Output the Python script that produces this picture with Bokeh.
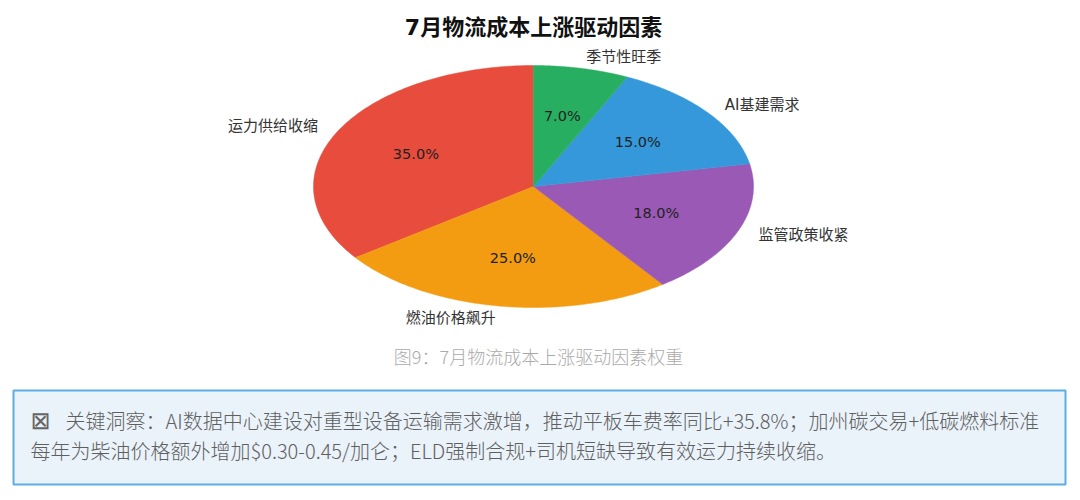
import numpy as np
from bokeh.plotting import figure
from bokeh.models import Range1d, ColumnDataSource
from bokeh.core.properties import value
from bokeh.embed import file_html
from bokeh.resources import INLINE

# ---- data ----
title = "7月物流成本上涨驱动因素"
categories = ["运力供给收缩", "燃油价格飙升", "监管政策收紧", "AI基建需求", "季节性旺季"]
shares = [35.0, 25.0, 18.0, 15.0, 7.0]
colors = ["#e74c3c", "#f39c12", "#9b59b6", "#3498db", "#27ae60"]
caption = "图9：7月物流成本上涨驱动因素权重"
insight_lines = [
    "关键洞察：AI数据中心建设对重型设备运输需求激增，推动平板车费率同比+35.8%；加州碳交易+低碳燃料标准",
    "每年为柴油价格额外增加$0.30-0.45/加仑；ELD强制合规+司机短缺导致有效运力持续收缩。",
]

W, H = 1072, 492
p = figure(width=W, height=H, x_range=Range1d(0, W), y_range=Range1d(H, 0),
           output_backend="svg", toolbar_location=None,
           x_axis_type=None, y_axis_type=None, min_border=0)
p.grid.visible = False
p.outline_line_color = None
p.background_fill_color = "white"

CJK = "DejaVu Sans, Noto Sans CJK SC"
LIGHT = "Noto Sans CJK SC Light, Noto Sans CJK SC"

# ---- pie (elliptical, start at 90deg, counter-clockwise) ----
cx, cy, rx, ry = 533, 186, 220, 121
vals = np.array(shares)
frac = vals / vals.sum()
ends = np.pi / 2 + 2 * np.pi * np.cumsum(frac)
starts = ends - 2 * np.pi * frac
xs, ys = [], []
for a0, a1 in zip(starts, ends):
    t = np.linspace(a0, a1, 120)
    xs.append(list(np.r_[cx, cx + rx * np.cos(t)]))
    ys.append(list(np.r_[cy, cy - ry * np.sin(t)]))
p.patches(xs=xs, ys=ys, fill_color=colors, line_color=colors, line_width=0.5)

mids = (starts + ends) / 2
lx = cx + 1.1 * rx * np.cos(mids)
ly = cy - 1.1 * ry * np.sin(mids)
align = ["left" if np.cos(m) >= 0 else "right" for m in mids]
src = ColumnDataSource(dict(x=lx, y=ly, t=categories, a=align))
p.text(x="x", y="y", text="t", text_align="a", source=src,
       text_baseline="middle", text_font=value(CJK), text_font_size="15px",
       text_color="#333333")

px = cx + 0.6 * rx * np.cos(mids)
py = cy - 0.6 * ry * np.sin(mids)
pct = [f"{v:.1f}%" for v in vals]
p.text(x=px, y=py, text=pct, text_align="center", text_baseline="middle",
       text_font=value("DejaVu Sans"), text_font_size="14.5px", text_color="#222222")

# title
p.text(x=[cx], y=[27], text=[title], text_align="center", text_baseline="middle",
       text_font=value(CJK), text_font_size="22px", text_font_style="bold",
       text_color="#111111")

# caption
p.text(x=[538], y=[355], text=[caption], text_align="center", text_baseline="middle",
       text_font=value(LIGHT), text_font_size="18px", text_color="#aaaaaa")

# insight box
p.quad(left=[13], right=[1065], top=[390], bottom=[484], fill_color="#eaf2fa",
       line_color="#5dade2", line_width=2)
p.text(x=[30], y=[420], text=["⊠"], text_align="left", text_baseline="middle",
       text_font=value("DejaVu Sans"), text_font_size="24px", text_color="#666666")
p.text(x=[65, 30], y=[420, 450], text=insight_lines, text_align="left",
       text_baseline="middle", text_font=value(LIGHT),
       text_font_size="20px", text_color="#5f5f5f")

open("out.html", "w").write(file_html(p, INLINE))
